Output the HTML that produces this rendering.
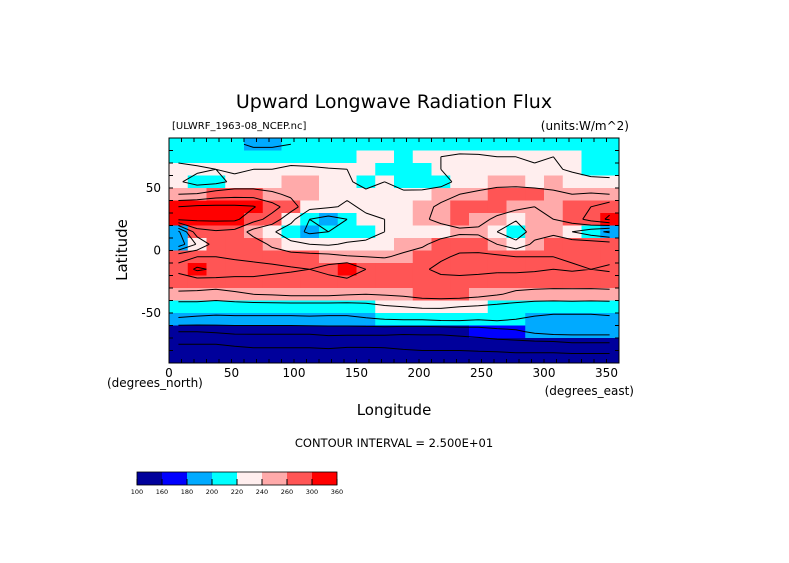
<!DOCTYPE html>
<html><head><meta charset="utf-8"><style>
html,body{margin:0;padding:0;background:#fff}
svg text{font-family:"DejaVu Sans","Liberation Sans",sans-serif;fill:#000}
</style></head><body>
<svg width="789" height="558" viewBox="0 0 789 558">
<text x="394" y="108" font-size="19" text-anchor="middle">Upward Longwave Radiation Flux</text>
<text x="172" y="129" font-size="10">[ULWRF_1963-08_NCEP.nc]</text>
<text x="629" y="130" font-size="12" text-anchor="end">(units:W/m^2)</text>
<g id="cells"></g>
<g id="contours"></g>
<rect x="169" y="138" width="450" height="225" fill="none" stroke="#000" stroke-width="1"/>
<g id="ticks"></g>
<text transform="translate(127,250) rotate(-90)" font-size="15" text-anchor="middle">Latitude</text>
<text x="107" y="387" font-size="12">(degrees_north)</text>
<text x="634" y="395" font-size="12" text-anchor="end">(degrees_east)</text>
<text x="394" y="415" font-size="15" text-anchor="middle">Longitude</text>
<text x="394" y="447" font-size="11.5" text-anchor="middle">CONTOUR INTERVAL = 2.500E+01</text>
<g id="cbar"></g>
</svg>
<script>
const lats=[85,75,65,55,45,35,25,15,5,-5,-15,-25,-35,-45,-55,-65,-75,-85];
const lons=[7.5,22.5,37.5,52.5,67.5,82.5,97.5,112.5,127.5,142.5,157.5,172.5,187.5,202.5,217.5,232.5,247.5,262.5,277.5,292.5,307.5,322.5,337.5,352.5];
const grid=[
[210,210,210,205,195,195,200,210,210,210,210,210,212,212,215,215,212,212,212,212,212,212,212,212],
[212,212,212,212,215,215,218,215,215,218,222,222,218,220,225,228,228,225,225,222,225,222,215,212],
[238,230,225,222,225,225,228,228,226,225,222,215,212,215,225,228,230,232,230,228,228,222,215,215],
[228,215,218,230,230,232,240,245,232,228,218,225,215,212,215,232,238,240,242,238,240,235,232,230],
[250,252,262,265,265,255,245,240,230,228,230,232,230,232,240,250,255,262,262,262,255,250,252,250],
[300,305,305,305,302,285,262,232,228,222,228,230,235,242,255,265,265,262,258,250,250,262,275,290],
[305,305,305,305,285,265,232,200,190,200,222,225,235,245,258,262,258,245,228,245,250,262,285,305],
[195,265,272,268,240,228,212,195,200,210,215,225,228,230,235,245,245,225,205,240,245,225,210,195],
[185,228,262,268,265,245,230,225,222,228,230,232,240,245,262,268,265,250,235,255,262,265,265,262],
[270,275,275,272,268,265,262,260,258,252,250,248,255,265,272,278,280,280,275,275,275,272,272,270],
[280,305,295,285,285,282,278,275,285,300,275,270,270,272,280,282,282,280,280,278,275,278,275,278],
[265,262,265,268,268,265,265,262,262,265,265,262,262,265,268,268,265,262,262,262,262,260,262,262],
[245,245,240,245,250,252,255,255,255,252,250,252,255,260,262,262,258,252,245,242,240,242,240,242],
[212,212,210,212,212,212,212,212,212,212,215,222,225,228,228,225,222,218,215,212,212,212,212,212],
[198,196,195,195,195,195,195,196,195,195,198,200,202,202,205,205,202,205,200,196,192,192,192,195],
[150,150,152,155,155,155,155,155,158,158,158,158,155,155,155,158,160,165,170,180,185,185,185,185],
[125,125,125,128,130,130,130,130,132,130,130,130,132,135,135,135,138,140,140,140,140,145,145,145],
[115,110,110,110,112,112,112,112,112,110,110,112,115,115,115,115,115,115,118,118,118,118,118,118]];
const bounds=[160,180,200,220,240,260,300];
const colors=["#00009b","#0000ff","#00aaff","#00ffff","#ffeeee","#ffaaaa","#ff5555","#ff0000"];
const cbarLabels=["100","160","180","200","220","240","260","300","360"];
const xTickLabels=[0,50,100,150,200,250,300,350];
const yTickLabels=[50,0,-50];
const levels=[100,125,150,175,200,225,250,275,300,325];

const NS="http://www.w3.org/2000/svg";
const X0=169,X1=619,Y0=138,Y1=363;
const xs=lon=>X0+(lon/360)*(X1-X0);
const ys=lat=>Y0+((90-lat)/180)*(Y1-Y0);
function mk(t,a,p){const e=document.createElementNS(NS,t);for(const k in a)e.setAttribute(k,a[k]);p.appendChild(e);return e;}
function colorOf(v){let i=0;while(i<bounds.length&&v>=bounds[i])i++;return colors[i];}
const dLon=15,dLat=10;
const cells=document.getElementById('cells');
lats.forEach((lat,r)=>lons.forEach((lon,c)=>{
  const x=xs(lon-dLon/2),y=ys(lat+dLat/2);
  const e=mk('rect',{x:x,y:y,width:xs(lon+dLon/2)-x+0.5,height:ys(lat-dLat/2)-y+0.5,fill:colorOf(grid[r][c])},cells);
  
  
}));
const cg=document.getElementById('contours');
let d="";
for(const L of levels){
  for(let r=0;r<lats.length-1;r++)for(let c=0;c<lons.length-1;c++){
    const p=[[lons[c],lats[r],grid[r][c]],[lons[c+1],lats[r],grid[r][c+1]],[lons[c+1],lats[r+1],grid[r+1][c+1]],[lons[c],lats[r+1],grid[r+1][c]]];
    const pts=[];
    for(let k=0;k<4;k++){
      const a=p[k],b=p[(k+1)%4];
      if((a[2]<L)!==(b[2]<L)){
        const t=(L-a[2])/(b[2]-a[2]);
        pts.push([xs(a[0]+t*(b[0]-a[0])),ys(a[1]+t*(b[1]-a[1]))]);
      }
    }
    for(let k=0;k+1<pts.length;k+=2)
      d+="M"+pts[k][0].toFixed(1)+","+pts[k][1].toFixed(1)+"L"+pts[k+1][0].toFixed(1)+","+pts[k+1][1].toFixed(1);
  }
}
const cp=mk('path',{d:d,stroke:"#000","stroke-width":1,fill:"none"},cg);


const tg=document.getElementById('ticks');
let td="";
for(let lon=0;lon<=360;lon+=10){const x=xs(lon);td+=`M${x},${Y0}v4M${x},${Y1}v-4`;}
for(let lat=-90;lat<=90;lat+=10){const y=ys(lat);td+=`M${X0},${y}h4M${X1},${y}h-4`;}
mk('path',{d:td,stroke:"#000","stroke-width":1},tg);
xTickLabels.forEach(v=>{
  const t=mk('text',{x:xs(v),y:377,"font-size":12,"text-anchor":"middle"},tg);t.textContent=v;
  
  
});
yTickLabels.forEach(v=>{
  const t=mk('text',{x:161,y:ys(v)+4,"font-size":12,"text-anchor":"end"},tg);t.textContent=v;
  
  
});
const cb=document.getElementById('cbar');
const bx=137,bw=200/colors.length;
colors.forEach((col,i)=>{
  const e=mk('rect',{x:bx+i*bw,y:472,width:bw,height:13,fill:col},cb);
  
  
});
mk('rect',{x:bx,y:472,width:200,height:13,fill:"none",stroke:"#000","stroke-width":0.8},cb);
cbarLabels.forEach((s,i)=>{
  mk('line',{x1:bx+i*bw,x2:bx+i*bw,y1:479,y2:485,stroke:"#000"},cb);
  const t=mk('text',{x:bx+i*bw,y:494,"font-size":6.5,"text-anchor":"middle"},cb);t.textContent=s;
  
  
});
</script>
</body></html>
